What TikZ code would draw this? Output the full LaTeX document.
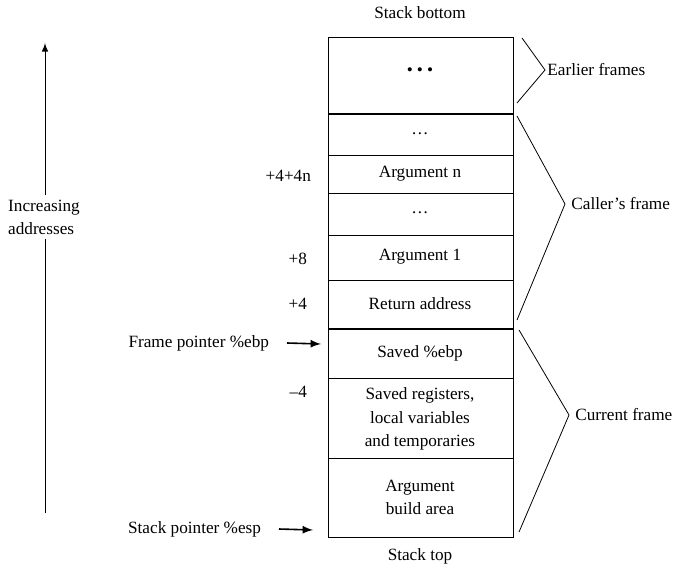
\documentclass[tikz,border=0pt]{standalone}
\usepackage{fontspec}
\setmainfont{Liberation Serif}
\begin{document}
\begin{tikzpicture}[x=0.5pt,y=-0.5pt,
    every node/.style={font=\fontsize{8.6}{11.6}\selectfont},
    cell/.style={align=center},
    pointer/.style={-latex,line width=0.8pt},
    brace/.style={line width=0.4pt}]
    \useasboundingbox (0,0) rectangle (678,567);

    % Stack cells
    \draw[line width=0.5pt] (328,38) rectangle (513,537);
    \foreach \y in {155,193,235,280,378,458}
        \draw[line width=0.5pt] (328,\y) -- (513,\y);
    \draw[line width=1.3pt] (328,114) -- (513,114);
    \draw[line width=1.3pt] (328,329) -- (513,329);

    % Cell contents
    \node[cell] (earlier) at (420,72) {\textbullet\hspace{2pt}\textbullet\hspace{2pt}\textbullet};
    \node[cell] (dotsn) at (420,134) {\dots};
    \node[cell] (argn) at (420,174) {Argument n};
    \node[cell] (dotsa) at (420,213) {\dots};
    \node[cell] (arg1) at (420,257) {Argument 1};
    \node[cell] (ret) at (420,304) {Return address};
    \node[cell] (savedebp) at (420,353) {Saved \%ebp};
    \node[cell] (saved) at (420,419) {Saved registers,\\ local variables\\and temporaries};
    \node[cell] (build) at (420,497) {Argument\\ build area};

    % Stack ends
    \node (sbottom) at (420,13) {Stack bottom};
    \node (stop) at (420,556) {Stack top};

    % Offsets
    \node[anchor=east] (offn) at (318,176) {+4+4n};
    \node[anchor=east] (off8) at (314,259) {+8};
    \node[anchor=east] (off4) at (314,304) {+4};
    \node[anchor=east] (offm4) at (314,392) {--4};

    % Pointers
    \node[anchor=east] (fp) at (276,343) {Frame pointer \%ebp};
    \coordinate (ebp) at (321,344);
    \draw[pointer] ([xshift=5.5pt]fp.east) -- (ebp);
    \node[anchor=east] (sp) at (268,529) {Stack pointer \%esp};
    \coordinate (esp) at (313,530);
    \draw[pointer] ([xshift=5.5pt]sp.east) -- (esp);

    % Address direction
    \node[align=left,fill=white,inner sep=2pt] (incr) at (44,217) {Increasing\\addresses};
    \coordinate (addrlow) at (45,513);
    \coordinate (addrhigh) at (45,43);
    \draw[line width=0.5pt] (addrlow) -- (incr.south -| addrlow);
    \draw[-latex,line width=0.5pt] (incr.north -| addrlow) -- (addrhigh);

    % Frame braces
    \coordinate (e1) at (522,38);
    \coordinate (etip) at (545,70);
    \coordinate (e2) at (517,103);
    \draw[brace] (e1) -- (etip) -- (e2);
    \node[anchor=west,inner sep=1pt] (elabel) at (etip) {Earlier frames};

    \coordinate (c1) at (517,116);
    \coordinate (ctip) at (565,204);
    \coordinate (c2) at (517,320);
    \draw[brace] (c1) -- (ctip) -- (c2);
    \node[anchor=west,inner sep=3pt] (clabel) at (ctip) {Caller's frame};

    \coordinate (f1) at (519,330);
    \coordinate (ftip) at (569,415);
    \coordinate (f2) at (519,532);
    \draw[brace] (f1) -- (ftip) -- (f2);
    \node[anchor=west,inner sep=3pt] (flabel) at (ftip) {Current frame};
\end{tikzpicture}
\end{document}
